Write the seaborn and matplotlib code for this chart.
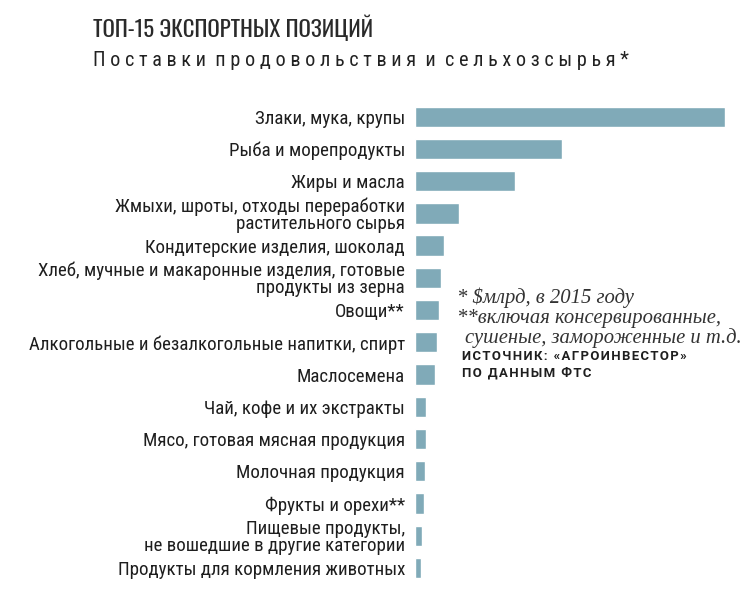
import matplotlib
matplotlib.use('Agg')
import matplotlib.pyplot as plt
from matplotlib import font_manager
import seaborn as sns
import pandas as pd

# Топ-15 экспортных позиций, $ млрд, 2015
categories = [
    'Злаки, мука, крупы',
    'Рыба и морепродукты',
    'Жиры и масла',
    'Жмыхи, шроты, отходы переработки\nрастительного сырья',
    'Кондитерские изделия, шоколад',
    'Хлеб, мучные и макаронные изделия, готовые\nпродукты из зерна',
    'Овощи**',
    'Алкогольные и безалкогольные напитки, спирт',
    'Маслосемена',
    'Чай, кофе и их экстракты',
    'Мясо, готовая мясная продукция',
    'Молочная продукция',
    'Фрукты и орехи**',
    'Пищевые продукты,\nне вошедшие в другие категории',
    'Продукты для кормления животных',
]
values = [5.6, 2.65, 1.8, 0.8, 0.52, 0.47, 0.43, 0.4, 0.36, 0.2, 0.19, 0.18, 0.16, 0.13, 0.11]

df = pd.DataFrame({'cat': categories, 'val': values})

installed = {f.name for f in font_manager.fontManager.ttflist}


def pick(*names):
    for n in names:
        if n in installed:
            return n
    return 'DejaVu Sans'


cond = pick('Roboto Condensed', 'PT Sans Narrow', 'Liberation Sans Narrow')
thin = pick('Oswald', 'Fira Sans Extra Condensed', 'Roboto Condensed')
plain = pick('Roboto', 'Liberation Sans', 'DejaVu Sans')
serif_font = pick('Liberation Serif', 'PT Serif', 'DejaVu Serif')

sns.set_style('white')
plt.rcParams['font.family'] = [cond, 'DejaVu Sans']

fig = plt.figure(figsize=(7.54, 6), dpi=100)
ax = fig.add_axes([415 / 754, 1 - 584 / 600, 310 / 754, (584 - 100.6) / 600])

sns.barplot(data=df, y='cat', x='val', orient='h', color='#80aab8',
            saturation=1, width=0.63, ax=ax)

ax.set_xlim(0, max(values))
ax.set_ylim(len(categories) - 0.5, -0.5)
ax.set_xlabel('')
ax.set_ylabel('')
ax.set_xticks([])
for s in ax.spines.values():
    s.set_visible(False)
ax.tick_params(axis='y', length=0, pad=7.2, labelsize=12, labelcolor='#1e1e1e')
for lab in ax.get_yticklabels():
    lab.set_multialignment('right')
    lab.set_linespacing(0.92)


def fit(texts, target):
    # подгоняем размер шрифта под ширину в пикселях
    fig.canvas.draw()
    r = fig.canvas.get_renderer()
    w = max(t.get_window_extent(r).width for t in texts)
    for t in texts:
        t.set_fontsize(t.get_fontsize() * target / w)


fit(ax.get_yticklabels(), 375)

# заголовок
title = fig.text(93 / 754, 1 - 28 / 600, 'ТОП-15 ЭКСПОРТНЫХ ПОЗИЦИЙ', fontsize=24,
                 family=[thin, 'DejaVu Sans'], fontweight=300, color='#2a2a2a',
                 va='center', ha='left')
fit([title], 280)
subtitle = '  '.join(' '.join(w) for w in 'Поставки продовольствия и сельхозсырья'.split())
sub = fig.text(93 / 754, 1 - 61 / 600, subtitle + ' *', fontsize=11,
               color='#222222', va='center', ha='left')
fit([sub], 535)

# примечания
serif = dict(family=serif_font, style='italic', color='#333333', fontsize=13, va='center')
n1 = fig.text(457 / 754, 1 - 298 / 600, '* $млрд, в 2015 году', **serif)
n2 = fig.text(457 / 754, 1 - 318 / 600, '**включая консервированные,', **serif)
n3 = fig.text(465 / 754, 1 - 338 / 600, 'сушеные, замороженные и т.д.', **serif)
fit([n2], 263)
n1.set_fontsize(n2.get_fontsize())
n3.set_fontsize(n2.get_fontsize())

bold = dict(fontsize=8, fontweight='bold', color='#1e1e1e', va='center',
            family=[plain, 'DejaVu Sans'])
gap = '\u200a'
s1 = fig.text(462 / 754, 1 - 356 / 600, gap.join('ИСТОЧНИК: «АГРОИНВЕСТОР»'), **bold)
s2 = fig.text(462 / 754, 1 - 373 / 600, gap.join('ПО ДАННЫМ ФТС'), **bold)
fit([s1], 225)
s2.set_fontsize(s1.get_fontsize())

fig.savefig('out.png', dpi=100, facecolor='white')
